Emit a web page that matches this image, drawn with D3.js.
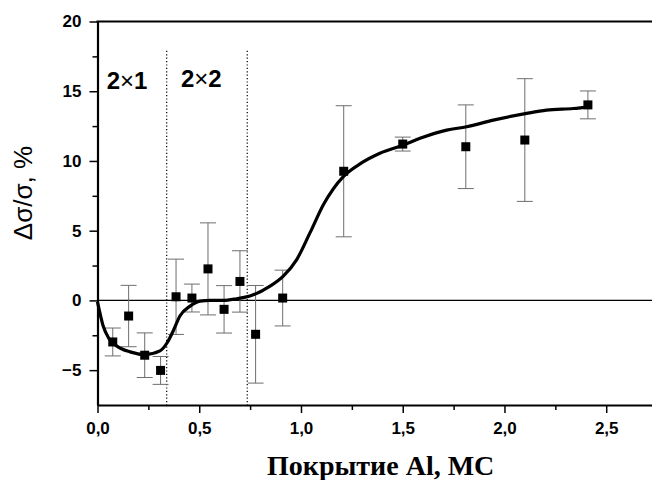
<!DOCTYPE html>
<html>
<head>
<meta charset="utf-8">
<script src="https://cdn.jsdelivr.net/npm/d3@7"></script>
<style>
  body { margin: 0; background: #fff; }
  svg { display: block; }
</style>
</head>
<body>
<div class="chart"></div>
<script>
// measured points (coverage, ML) and their error half-widths
const coverage = [0.075, 0.153, 0.232, 0.31, 0.386, 0.464, 0.543, 0.622, 0.70, 0.777, 0.91, 1.21, 1.50, 1.81, 2.10, 2.41];
const deltaSigma = [-2.98, -1.12, -3.93, -5.02, 0.26, 0.17, 2.26, -0.64, 1.36, -2.43, 0.17, 9.26, 11.21, 11.02, 11.5, 14.02];
const errors = [1.0, 2.2, 1.6, 1.0, 2.7, 1.0, 3.3, 1.7, 2.2, 3.5, 2.0, 4.7, 0.5, 3.0, 4.4, 1.0];

// smooth guide curve
const fitX = [0.0, 0.012, 0.028, 0.055, 0.094, 0.16, 0.233, 0.307, 0.343, 0.372, 0.405, 0.455, 0.504, 0.553, 0.618, 0.684, 0.749, 0.848, 0.913, 0.979, 1.044, 1.11, 1.208, 1.29, 1.388, 1.503, 1.585, 1.716, 1.814, 1.945, 2.109, 2.207, 2.338, 2.42];
const fitY = [-0.1, -0.9, -1.84, -2.7, -3.26, -3.69, -3.88, -3.62, -3.02, -2.19, -1.12, -0.41, -0.05, 0, 0, 0.12, 0.31, 1.02, 1.74, 2.93, 4.84, 6.86, 8.88, 9.79, 10.55, 11.14, 11.62, 12.21, 12.45, 12.93, 13.41, 13.64, 13.76, 13.88];

// phase boundaries and labels
const boundaries = [0.34, 0.736];
const phaseLabels = [['2', '×', '1'], ['2', '×', '2']];
const phaseLabelX = [0.045, 0.41];

const xTicks = [0, 0.5, 1.0, 1.5, 2.0, 2.5];
const yTicks = [-5, 0, 5, 10, 15, 20];

const createChart = () => {
  const width = 652;
  const height = 480;

  const svg = d3.select('.chart')
    .append('svg')
    .attr('width', width)
    .attr('height', height);

  const x = d3.scaleLinear().domain([0, 2.725]).range([97.5, 652]);
  const y = d3.scaleLinear().domain([-7.5, 20]).range([405, 21.5]);

  const fmt = d => d3.format('.1f')(d).replace('.', ',');

  /* zero line */
  svg.append('line')
    .attr('x1', x(0)).attr('x2', x(2.725))
    .attr('y1', y(0)).attr('y2', y(0))
    .attr('stroke', '#000')
    .attr('stroke-width', 1.2);

  /* dotted boundaries */
  svg.selectAll('.boundary')
    .data(boundaries)
    .enter().append('line')
    .attr('class', 'boundary')
    .attr('x1', d => x(d)).attr('x2', d => x(d))
    .attr('y1', y(17.9)).attr('y2', y(-7.5))
    .attr('stroke', '#000')
    .attr('stroke-width', 1.2)
    .attr('stroke-dasharray', '1.2,2.2');

  const labels = svg.selectAll('.phase')
    .data(phaseLabels)
    .enter().append('text')
    .attr('class', 'phase')
    .attr('x', (d, i) => x(phaseLabelX[i]))
    .attr('y', (d, i) => (i === 0 ? 88.5 : 86.5))
    .style('font-family', '"Liberation Sans", Arial, sans-serif')
    .style('font-weight', 'bold')
    .style('font-size', '24px');

  labels.selectAll('tspan')
    .data(d => d)
    .enter().append('tspan')
    .style('font-weight', (d, i) => (i === 1 ? 'normal' : 'bold'))
    .text(d => d);

  /* error bars */
  const points = coverage.map((c, i) => ({ x: c, y: deltaSigma[i], e: errors[i] }));

  const bars = svg.selectAll('.err')
    .data(points)
    .enter().append('g')
    .attr('class', 'err')
    .attr('stroke', '#6e6e6e')
    .attr('stroke-width', 1);

  bars.append('line')
    .attr('x1', d => x(d.x)).attr('x2', d => x(d.x))
    .attr('y1', d => y(d.y + d.e)).attr('y2', d => y(d.y - d.e));
  bars.append('line')
    .attr('x1', d => x(d.x) - 8).attr('x2', d => x(d.x) + 8)
    .attr('y1', d => y(d.y + d.e)).attr('y2', d => y(d.y + d.e));
  bars.append('line')
    .attr('x1', d => x(d.x) - 8).attr('x2', d => x(d.x) + 8)
    .attr('y1', d => y(d.y - d.e)).attr('y2', d => y(d.y - d.e));

  /* curve */
  const fit = fitX.map((v, i) => [v, fitY[i]]);
  const line = d3.line()
    .x(d => x(d[0]))
    .y(d => y(d[1]))
    .curve(d3.curveMonotoneX);

  svg.append('path')
    .datum(fit)
    .attr('d', line)
    .attr('fill', 'none')
    .attr('stroke', '#000')
    .attr('stroke-width', 3.2)
    .attr('stroke-linejoin', 'round');

  /* squares */
  svg.selectAll('.pt')
    .data(points)
    .enter().append('rect')
    .attr('class', 'pt')
    .attr('x', d => x(d.x) - 4.5)
    .attr('y', d => y(d.y) - 4.5)
    .attr('width', 9)
    .attr('height', 9)
    .attr('fill', '#000');

  /* axes */
  const tickFont = g => g.selectAll('text')
    .style('font-family', '"Liberation Sans", Arial, sans-serif')
    .style('font-weight', 'bold')
    .style('font-size', '17px')
    .attr('fill', '#000');

  const xMinor = d3.range(0.25, 2.75, 0.5);
  svg.append('g')
    .attr('transform', `translate(0,${y(-7.5)})`)
    .call(d3.axisBottom(x).tickValues(xMinor).tickSize(5).tickFormat(''))
    .call(g => g.select('.domain').remove())
    .call(g => g.selectAll('line').attr('stroke-width', 1.5));

  const xAxisGroup = svg.append('g')
    .attr('transform', `translate(0,${y(-7.5)})`)
    .call(d3.axisBottom(x).tickValues(xTicks).tickSize(8).tickSizeOuter(0).tickPadding(9).tickFormat(fmt))
    .call(tickFont);
  xAxisGroup.select('.domain').attr('stroke-width', 2.2);
  xAxisGroup.selectAll('line').attr('stroke-width', 1.5);

  const yMinor = d3.range(-2.5, 20, 5);
  svg.append('g')
    .attr('transform', `translate(${x(0)},0)`)
    .call(d3.axisLeft(y).tickValues(yMinor).tickSize(5).tickFormat(''))
    .call(g => g.select('.domain').remove())
    .call(g => g.selectAll('line').attr('stroke-width', 1.5));

  const yAxisGroup = svg.append('g')
    .attr('transform', `translate(${x(0)},0)`)
    .call(d3.axisLeft(y).tickValues(yTicks).tickSize(8).tickSizeOuter(0).tickPadding(8))
    .call(tickFont);
  yAxisGroup.select('.domain').attr('stroke-width', 2.2);
  yAxisGroup.selectAll('line').attr('stroke-width', 1.5);

  /* top frame line */
  svg.append('line')
    .attr('x1', x(0) - 1).attr('x2', width)
    .attr('y1', y(20)).attr('y2', y(20))
    .attr('stroke', '#000')
    .attr('stroke-width', 2.2);

  /* titles */
  svg.append('text')
    .attr('x', 267)
    .attr('y', 475)
    .style('font-family', '"Liberation Serif", "Times New Roman", serif')
    .style('font-weight', 'bold')
    .style('font-size', '28px')
    .text('Покрытие Al, МС');

  svg.append('text')
    .attr('transform', 'translate(32,193) rotate(-90)')
    .attr('text-anchor', 'middle')
    .style('font-family', '"Liberation Sans", Arial, sans-serif')
    .style('font-size', '26px')
    .text('Δσ/σ, %');
};

createChart();
</script>
</body>
</html>
